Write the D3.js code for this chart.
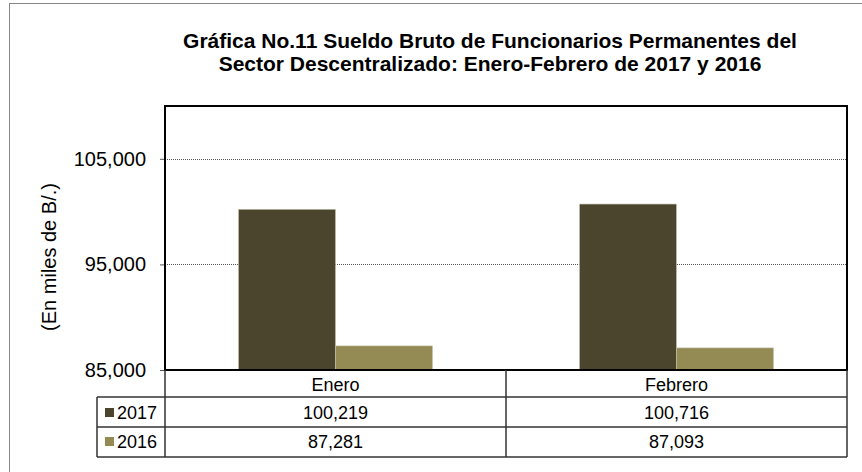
<!DOCTYPE html>
<html>
<head>
<meta charset="utf-8">
<script src="https://cdn.jsdelivr.net/npm/d3@7"></script>
<style>
  body { margin: 0; background: #fff; }
  text { font-family: "Liberation Sans", Arial, sans-serif; fill: #000; }
</style>
</head>
<body>
<svg id="chart" width="862" height="472"></svg>
<script>
'use strict';

var months = ['Enero', 'Febrero'];
var years = ['2017', '2016'];
var values2017 = [100219, 100716];
var values2016 = [87281, 87093];
var yTicks = [85000, 95000, 105000];
var colors = ['#4a452c', '#948a54'];

var series = [values2017, values2016];
var svg = d3.select('#chart');
var fmt = d3.format(',');

var plotLeft = 165, plotRight = 847, plotTop = 106, plotBottom = 370;

// outer frame
svg.append('rect')
  .attr('x', 9.5).attr('y', 3.5)
  .attr('width', 870).attr('height', 480)
  .attr('fill', 'none')
  .attr('stroke', '#888')
  .attr('stroke-width', 1);

var title = svg.append('text')
  .attr('text-anchor', 'middle')
  .style('font-size', '21px')
  .style('font-weight', 'bold');
title.append('tspan').attr('x', 490).attr('y', 48)
  .text('Gráfica No.11 Sueldo Bruto de Funcionarios Permanentes del');
title.append('tspan').attr('x', 490).attr('y', 71)
  .text('Sector Descentralizado: Enero-Febrero de 2017 y 2016');

var x = d3.scaleBand()
  .domain(months)
  .range([plotLeft, plotRight])
  .paddingInner(0.431)
  .paddingOuter(0.2155);

var xs = d3.scaleBand()
  .domain(years)
  .range([0, x.bandwidth()]);

var y = d3.scaleLinear()
  .domain([85000, 110000])
  .range([plotBottom, plotTop]);

// gridlines
svg.append('g')
  .selectAll('line')
  .data(yTicks.filter(function(d){ return d > 85000; }))
  .join('line')
  .attr('x1', plotLeft).attr('x2', plotRight)
  .attr('y1', function(d){ return Math.round(y(d)) + 0.5; })
  .attr('y2', function(d){ return Math.round(y(d)) + 0.5; })
  .attr('stroke', '#555')
  .attr('stroke-dasharray', '1,1');

// y axis
var yAxis = svg.append('g')
  .attr('transform', 'translate(' + plotLeft + ',0)')
  .call(d3.axisLeft(y).tickValues(yTicks).tickFormat(fmt).tickSize(5).tickPadding(14));
yAxis.select('.domain').remove();
yAxis.selectAll('.tick line').attr('stroke', '#555');
yAxis.selectAll('.tick text')
  .style('font-size', '20px')
  .style('font-family', '"Liberation Sans", Arial, sans-serif')
  .attr('fill', '#000');

svg.append('text')
  .attr('transform', 'translate(56,257) rotate(-90)')
  .attr('text-anchor', 'middle')
  .style('font-size', '20px')
  .text('(En miles de B/.)');

// bars
svg.append('g')
  .selectAll('g')
  .data(years)
  .join('g')
  .attr('fill', function(d, i){ return colors[i]; })
  .selectAll('rect')
  .data(function(d, i){
    return months.map(function(m, j){ return { month: m, year: d, value: series[i][j] }; });
  })
  .join('rect')
  .attr('x', function(d){ return x(d.month) + xs(d.year); })
  .attr('width', xs.bandwidth())
  .attr('y', function(d){ return y(d.value); })
  .attr('height', function(d){ return plotBottom - y(d.value); })
  .attr('stroke', '#c8c4b0')
  .attr('stroke-width', 0.6);

// plot frame
svg.append('rect')
  .attr('x', plotLeft).attr('y', plotTop)
  .attr('width', plotRight - plotLeft).attr('height', plotBottom - plotTop)
  .attr('fill', 'none')
  .attr('stroke', '#000')
  .attr('stroke-width', 2);

// data table
var rowH = [370, 397, 427, 457];
var tableLeft = 97;
var tbl = svg.append('g').attr('stroke', '#333').attr('stroke-width', 1.5);
tbl.append('line').attr('x1', tableLeft).attr('x2', plotRight).attr('y1', rowH[1]).attr('y2', rowH[1]);
tbl.append('line').attr('x1', tableLeft).attr('x2', plotRight).attr('y1', rowH[2]).attr('y2', rowH[2]);
tbl.append('line').attr('x1', tableLeft).attr('x2', plotRight).attr('y1', rowH[3]).attr('y2', rowH[3]);
tbl.append('line').attr('x1', tableLeft).attr('x2', tableLeft).attr('y1', rowH[1]).attr('y2', rowH[3]);
tbl.append('line').attr('x1', plotLeft).attr('x2', plotLeft).attr('y1', rowH[0]).attr('y2', rowH[3]);
tbl.append('line').attr('x1', plotRight).attr('x2', plotRight).attr('y1', rowH[0]).attr('y2', rowH[3]);
tbl.selectAll('.div')
  .data(months.slice(1))
  .join('line')
  .attr('x1', function(d){ return x(d) - x.step() * x.paddingInner() / 2; })
  .attr('x2', function(d){ return x(d) - x.step() * x.paddingInner() / 2; })
  .attr('y1', rowH[0]).attr('y2', rowH[3]);

svg.append('g')
  .selectAll('text')
  .data(months)
  .join('text')
  .attr('x', function(d){ return x(d) + x.bandwidth() / 2; })
  .attr('y', 391)
  .attr('text-anchor', 'middle')
  .style('font-size', '18px')
  .text(function(d){ return d; });

var rows = svg.append('g')
  .selectAll('g')
  .data(years)
  .join('g')
  .attr('transform', function(d, i){ return 'translate(0,' + (419 + i * 29) + ')'; });

rows.append('rect')
  .attr('x', 105).attr('y', -11)
  .attr('width', 9).attr('height', 9)
  .attr('fill', function(d, i){ return colors[i]; });

rows.append('text')
  .attr('x', 117)
  .style('font-size', '18px')
  .text(function(d){ return d; });

rows.selectAll('.val')
  .data(function(d, i){ return series[i]; })
  .join('text')
  .attr('class', 'val')
  .attr('x', function(d, j){ return x(months[j]) + x.bandwidth() / 2; })
  .attr('text-anchor', 'middle')
  .style('font-size', '18px')
  .text(function(d){ return fmt(d); });
</script>
</body>
</html>
